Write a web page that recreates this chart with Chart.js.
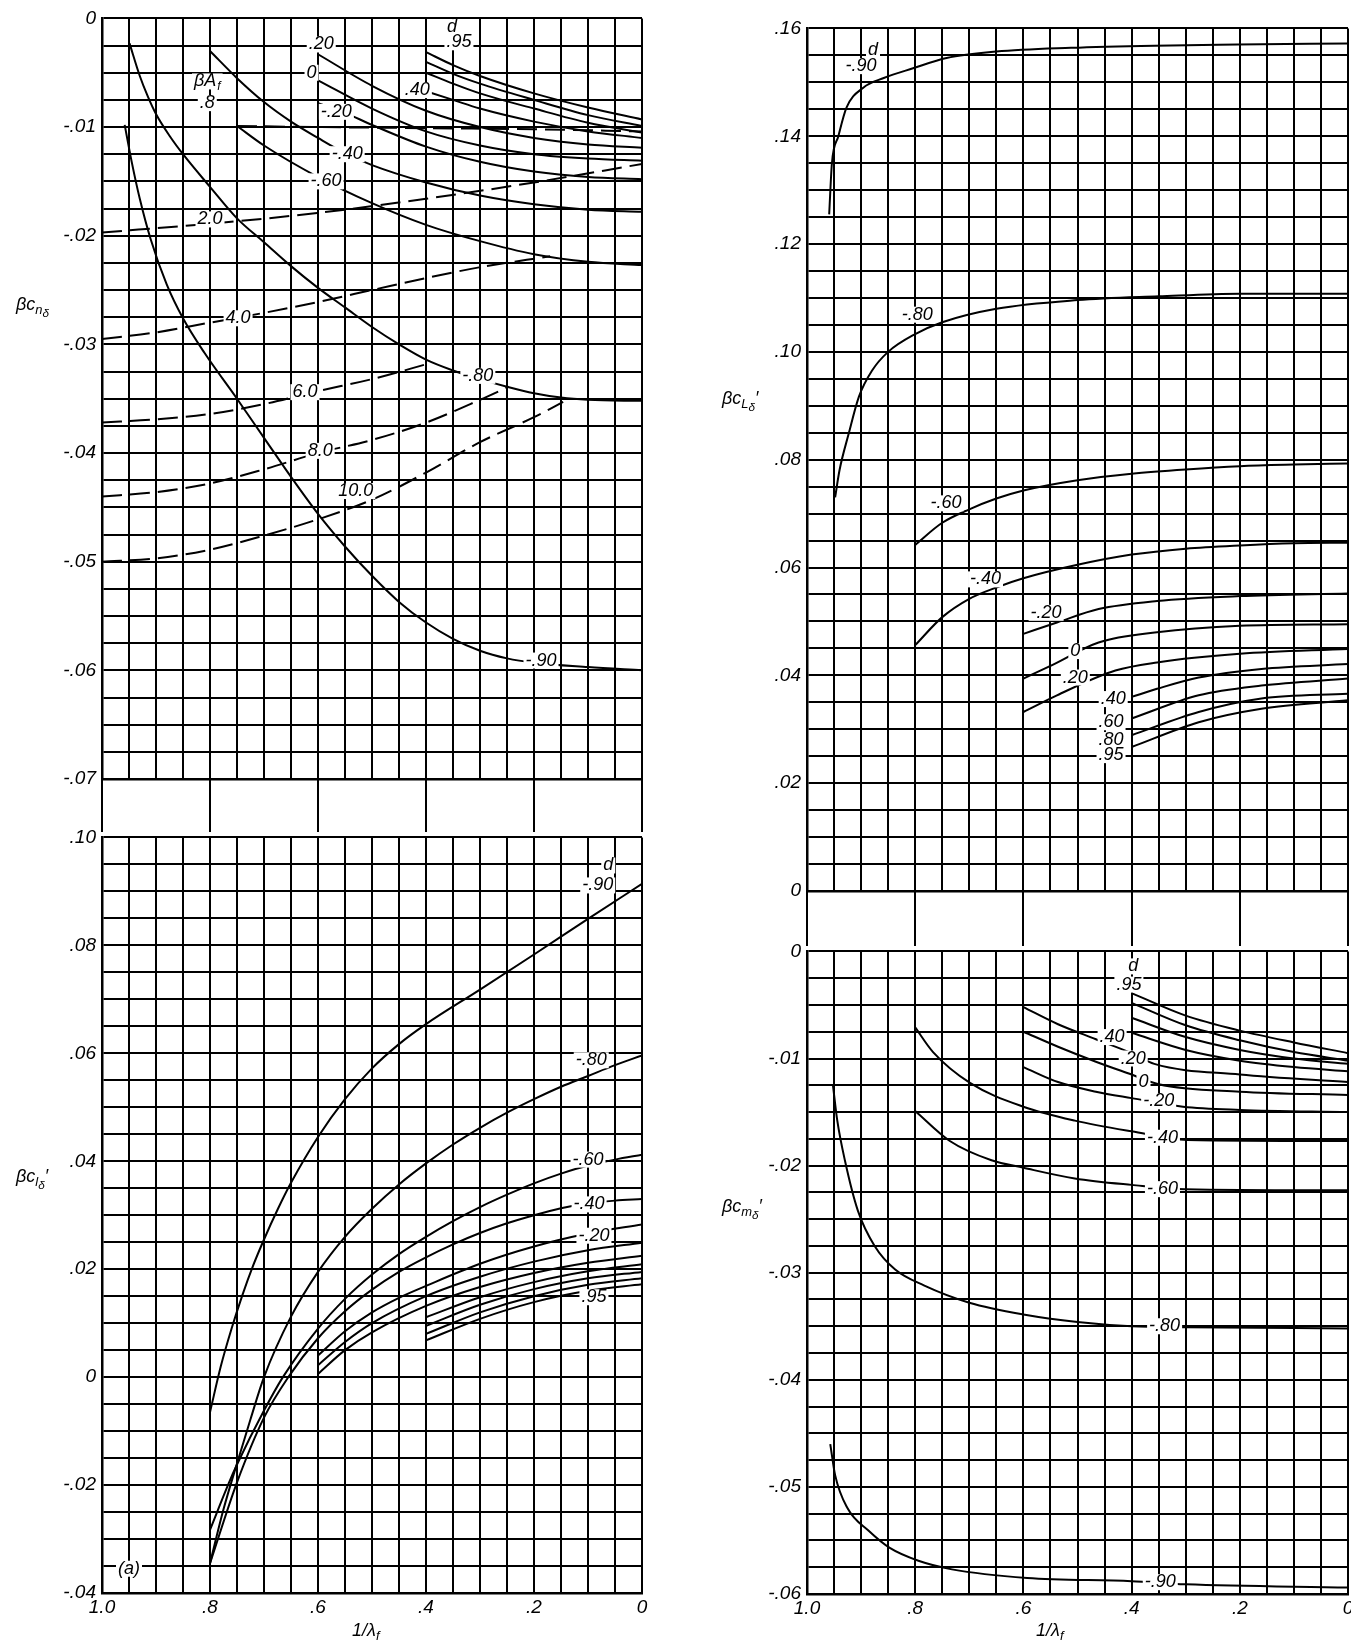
<!DOCTYPE html>
<html>
<head>
<meta charset="utf-8">
<script src="https://cdn.jsdelivr.net/npm/chart.js@4.4.1/dist/chart.umd.min.js"></script>
<style>
  html, body { margin: 0; padding: 0; background: #fff; overflow: hidden; }
  body { width: 1351px; height: 1647px; position: relative; font-family: "Liberation Sans", Arial, sans-serif; color: #000; }
  canvas { position: absolute; }
  .t { position: absolute; font-style: italic; font-size: 18px; white-space: nowrap; line-height: 1; }
  .t sub { font-size: 72%; vertical-align: -0.3em; }
  .t sub sub { font-size: 90%; vertical-align: -0.25em; }
</style>
</head>
<body>
<canvas id="cn"></canvas>
<canvas id="cl"></canvas>
<canvas id="cL"></canvas>
<canvas id="cm"></canvas>

<div class="t" style="left:16px;top:295px">βc<sub>n<sub>δ</sub></sub></div>
<div class="t" style="left:16px;top:1167px">βc<sub>l<sub>δ</sub></sub>′</div>
<div class="t" style="left:722px;top:389px">βc<sub>L<sub>δ</sub></sub>′</div>
<div class="t" style="left:722px;top:1197px">βc<sub>m<sub>δ</sub></sub>′</div>
<div class="t" style="left:352px;top:1621px">1/λ<sub>f</sub></div>
<div class="t" style="left:1036px;top:1621px">1/λ<sub>f</sub></div>

<script>
// ---------- axis settings ----------
const xLabelVals = [1, 0.8, 0.6, 0.4, 0.2, 0];
const xLabelText = ['1.0', '.8', '.6', '.4', '.2', '0'];
const xGridStep = 0.05;
const gapLineVals = [1, 0.8, 0.6, 0.4, 0.2, 0];

// ---------- βc_nδ  (yawing moment) ----------
const nD095 = [[0.4,-0.0031],[0.35,-0.0043],[0.3,-0.0053],[0.2,-0.0069],[0.1,-0.0082],[0,-0.0093]];
const nD080 = [[0.4,-0.0040],[0.35,-0.0051],[0.3,-0.0060],[0.2,-0.0075],[0.1,-0.0089],[0,-0.0099]];
const nD060 = [[0.4,-0.0050],[0.35,-0.0060],[0.3,-0.0069],[0.2,-0.0083],[0.1,-0.0096],[0,-0.0105]];
const nD040 = [[0.4,-0.0067],[0.35,-0.0075],[0.3,-0.0083],[0.2,-0.0095],[0.1,-0.0104],[0,-0.0110]];
const nD020 = [[0.6,-0.0033],[0.5,-0.0062],[0.4,-0.0085],[0.3,-0.0100],[0.2,-0.0110],[0.1,-0.0116],[0,-0.0119]];
const nD000 = [[0.6,-0.0057],[0.5,-0.0083],[0.4,-0.0104],[0.3,-0.0117],[0.2,-0.0125],[0.1,-0.0129],[0,-0.0131]];
const nDm20 = [[0.6,-0.0078],[0.55,-0.0087],[0.5,-0.0098],[0.4,-0.0118],[0.3,-0.0132],[0.2,-0.0141],[0.1,-0.0146],[0,-0.0148]];
const nDm40 = [[0.8,-0.0030],[0.75,-0.0055],[0.7,-0.0077],[0.65,-0.0095],[0.6,-0.0110],[0.55,-0.0124],[0.5,-0.0135],[0.4,-0.0151],[0.3,-0.0163],[0.2,-0.0171],[0.1,-0.0176],[0,-0.0178]];
const nDm60 = [[0.75,-0.0099],[0.7,-0.0117],[0.6,-0.0146],[0.5,-0.0170],[0.4,-0.0190],[0.3,-0.0205],[0.2,-0.0217],[0.1,-0.0224],[0,-0.0227]];
const nDm80 = [[0.949,-0.0023],[0.93,-0.0053],[0.915,-0.0072],[0.9,-0.0088],[0.875,-0.0108],[0.85,-0.0125],[0.8,-0.0155],[0.75,-0.0184],[0.7,-0.0206],[0.65,-0.0228],[0.6,-0.0248],[0.55,-0.0266],[0.5,-0.0284],[0.45,-0.0300],[0.4,-0.0314],[0.35,-0.0324],[0.3,-0.0332],[0.25,-0.0339],[0.2,-0.0345],[0.15,-0.0349],[0.1,-0.0351],[0,-0.0352]];
const nDm90 = [[0.958,-0.0098],[0.945,-0.0132],[0.93,-0.0166],[0.91,-0.0203],[0.88,-0.0245],[0.85,-0.0276],[0.81,-0.0308],[0.75,-0.0350],[0.7,-0.0386],[0.65,-0.0422],[0.6,-0.0456],[0.55,-0.0486],[0.5,-0.0513],[0.45,-0.0537],[0.4,-0.0556],[0.35,-0.0571],[0.3,-0.0582],[0.25,-0.0589],[0.2,-0.0593],[0.1,-0.0597],[0,-0.0600]];
// lines of constant βA_f
const nA08  = [[0.75,-0.0099],[0.6,-0.0100],[0.4,-0.0101],[0.2,-0.0102],[0,-0.0104]];
const nA20  = [[1,-0.0197],[0.8,-0.0189],[0.6,-0.0179],[0.4,-0.0166],[0.2,-0.0151],[0,-0.0134]];
const nA40  = [[1,-0.0295],[0.9,-0.0289],[0.8,-0.0280],[0.7,-0.0271],[0.6,-0.0261],[0.5,-0.0250],[0.4,-0.0239],[0.3,-0.0229],[0.17,-0.0219]];
const nA60  = [[1,-0.0372],[0.9,-0.0369],[0.8,-0.0364],[0.7,-0.0355],[0.6,-0.0343],[0.5,-0.0332],[0.39,-0.0317]];
const nA80  = [[1,-0.0440],[0.9,-0.0436],[0.8,-0.0428],[0.7,-0.0415],[0.6,-0.0400],[0.5,-0.0388],[0.4,-0.0372],[0.3,-0.0351],[0.247,-0.0339]];
const nA100 = [[1,-0.0500],[0.9,-0.0497],[0.8,-0.0489],[0.7,-0.0476],[0.6,-0.0461],[0.5,-0.0443],[0.4,-0.0418],[0.3,-0.0390],[0.2,-0.0367],[0.146,-0.0353]];
const nLabels = [
  {x:0.352, y:-0.0008, t:'d'}, {x:0.339, y:-0.0022, t:'.95'}, {x:0.416, y:-0.0066, t:'.40'},
  {x:0.594, y:-0.0024, t:'.20'}, {x:0.612, y:-0.0050, t:'0'}, {x:0.566, y:-0.0086, t:'-.20'},
  {x:0.546, y:-0.0125, t:'-.40'}, {x:0.585, y:-0.0150, t:'-.60'}, {x:0.304, y:-0.0329, t:'-.80'},
  {x:0.187, y:-0.0591, t:'-.90'}, {x:0.805, y:-0.0058, t:'βA', sub:'f'}, {x:0.805, y:-0.0078, t:'.8'},
  {x:0.80, y:-0.0185, t:'2.0'}, {x:0.748, y:-0.0276, t:'4.0'}, {x:0.624, y:-0.0344, t:'6.0'},
  {x:0.596, y:-0.0398, t:'8.0'}, {x:0.53, y:-0.0435, t:'10.0'}
];

// ---------- βc_lδ'  (rolling moment) ----------
const lDm90 = [[0.8,-0.0065],[0.78,0.0020],[0.76,0.0090],[0.74,0.0152],[0.72,0.0207],[0.7,0.0255],[0.675,0.0310],[0.65,0.0360],[0.6,0.0445],[0.55,0.0515],[0.5,0.0572],[0.45,0.0617],[0.4,0.0654],[0.3,0.0718],[0.2,0.0783],[0.1,0.0849],[0,0.0914]];
const lDm80 = [[0.8,-0.0345],[0.775,-0.0245],[0.75,-0.0160],[0.725,-0.0078],[0.7,0.0000],[0.65,0.0112],[0.6,0.0195],[0.55,0.0260],[0.5,0.0312],[0.45,0.0357],[0.4,0.0396],[0.35,0.0431],[0.3,0.0462],[0.25,0.0490],[0.2,0.0515],[0.15,0.0538],[0.1,0.0558],[0.05,0.0578],[0,0.0596]];
const lDm60 = [[0.8,-0.0283],[0.765,-0.0196],[0.75,-0.0162],[0.7,-0.0062],[0.665,0.0000],[0.6,0.0090],[0.55,0.0145],[0.5,0.0190],[0.45,0.0228],[0.4,0.0260],[0.35,0.0289],[0.3,0.0315],[0.25,0.0338],[0.2,0.0359],[0.15,0.0377],[0.1,0.0392],[0.05,0.0403],[0,0.0412]];
const lDm40 = [[0.8,-0.0345],[0.75,-0.0195],[0.7,-0.0075],[0.655,0.0000],[0.6,0.0072],[0.55,0.0122],[0.5,0.0162],[0.45,0.0195],[0.4,0.0222],[0.35,0.0246],[0.3,0.0267],[0.25,0.0285],[0.2,0.0300],[0.15,0.0313],[0.1,0.0322],[0.05,0.0327],[0,0.0330]];
const lDm20 = [[0.6,0.0040],[0.55,0.0085],[0.5,0.0120],[0.45,0.0147],[0.4,0.0169],[0.3,0.0210],[0.2,0.0242],[0.1,0.0266],[0,0.0283]];
const lD000 = [[0.6,0.0022],[0.55,0.0065],[0.5,0.0100],[0.4,0.0150],[0.3,0.0186],[0.2,0.0214],[0.1,0.0235],[0,0.0249]];
const lD020 = [[0.6,0.0006],[0.55,0.0050],[0.5,0.0083],[0.4,0.0132],[0.3,0.0167],[0.2,0.0193],[0.1,0.0212],[0,0.0225]];
const lD040 = [[0.4,0.0111],[0.3,0.0148],[0.2,0.0176],[0.1,0.0196],[0,0.0209]];
const lD060 = [[0.4,0.0095],[0.3,0.0134],[0.2,0.0163],[0.1,0.0183],[0,0.0195]];
const lD080 = [[0.4,0.0080],[0.3,0.0120],[0.2,0.0150],[0.1,0.0171],[0,0.0183]];
const lD095 = [[0.4,0.0068],[0.3,0.0108],[0.2,0.0139],[0.1,0.0160],[0,0.0172]];
const lLabels = [
  {x:0.0625, y:0.0948, t:'d'}, {x:0.082, y:0.0911, t:'-.90'}, {x:0.094, y:0.0587, t:'-.80'},
  {x:0.10, y:0.0403, t:'-.60'}, {x:0.098, y:0.0320, t:'-.40'}, {x:0.089, y:0.0262, t:'-.20'},
  {x:0.089, y:0.0148, t:'.95'}, {x:0.95, y:-0.0355, t:'(a)'}
];

// ---------- βc_Lδ'  (lift) ----------
const LDm90 = [[0.959,0.1255],[0.954,0.1349],[0.942,0.1400],[0.927,0.1453],[0.896,0.1490],[0.858,0.1508],[0.804,0.1526],[0.742,0.1545],[0.65,0.1557],[0.512,0.1564],[0.358,0.1568],[0.204,0.1570],[0,0.1572]];
const LDm80 = [[0.948,0.0730],[0.94,0.0780],[0.923,0.0848],[0.904,0.0917],[0.88,0.0965],[0.85,0.1000],[0.8,0.1033],[0.75,0.1055],[0.65,0.1080],[0.5,0.1096],[0.35,0.1103],[0.2,0.1108],[0,0.1108]];
const LDm60 = [[0.8,0.0642],[0.75,0.0683],[0.7,0.0708],[0.65,0.0728],[0.6,0.0743],[0.5,0.0762],[0.4,0.0774],[0.3,0.0782],[0.2,0.0788],[0.1,0.0791],[0,0.0793]];
const LDm40 = [[0.8,0.0456],[0.75,0.0508],[0.7,0.0542],[0.65,0.0563],[0.6,0.0580],[0.5,0.0605],[0.4,0.0624],[0.3,0.0635],[0.2,0.0641],[0.1,0.0645],[0,0.0646]];
const LDm20 = [[0.6,0.0477],[0.538,0.0498],[0.461,0.0523],[0.353,0.0538],[0.2,0.0547],[0,0.0552]];
const LD000 = [[0.6,0.0394],[0.545,0.0420],[0.461,0.0461],[0.353,0.0480],[0.2,0.0492],[0,0.0495]];
const LD020 = [[0.6,0.0332],[0.538,0.0363],[0.43,0.0409],[0.353,0.0424],[0.2,0.0440],[0,0.0449]];
const LD040 = [[0.4,0.0360],[0.353,0.0375],[0.276,0.0396],[0.16,0.0412],[0,0.0421]];
const LD060 = [[0.4,0.0320],[0.276,0.0363],[0.16,0.0381],[0,0.0394]];
const LD080 = [[0.4,0.0289],[0.276,0.0332],[0.16,0.0357],[0,0.0366]];
const LD095 = [[0.4,0.0267],[0.276,0.0313],[0.16,0.0338],[0,0.0354]];
const LLabels = [
  {x:0.878, y:0.1560, t:'d'}, {x:0.900, y:0.1530, t:'-.90'}, {x:0.796, y:0.1069, t:'-.80'},
  {x:0.743, y:0.0719, t:'-.60'}, {x:0.67, y:0.0578, t:'-.40'}, {x:0.558, y:0.0516, t:'-.20'},
  {x:0.504, y:0.0445, t:'0'}, {x:0.504, y:0.0396, t:'.20'}, {x:0.434, y:0.0356, t:'.40'},
  {x:0.438, y:0.0313, t:'.60'}, {x:0.438, y:0.0280, t:'.80'}, {x:0.438, y:0.0252, t:'.95'}
];

// ---------- βc_mδ'  (pitching moment) ----------
const mD095 = [[0.4,-0.0039],[0.3,-0.0060],[0.2,-0.0074],[0.1,-0.0085],[0,-0.0095]];
const mD080 = [[0.4,-0.0048],[0.3,-0.0069],[0.2,-0.0083],[0.1,-0.0094],[0,-0.0102]];
const mD060 = [[0.4,-0.0062],[0.3,-0.0080],[0.2,-0.0092],[0.1,-0.0100],[0,-0.0105]];
const mD040 = [[0.4,-0.0076],[0.3,-0.0092],[0.2,-0.0102],[0.1,-0.0108],[0,-0.0112]];
const mD020 = [[0.6,-0.0052],[0.536,-0.0068],[0.466,-0.0082],[0.4,-0.0095],[0.358,-0.0105],[0.2,-0.0115],[0,-0.0122]];
const mD000 = [[0.6,-0.0075],[0.536,-0.0089],[0.466,-0.0103],[0.4,-0.0115],[0.35,-0.0124],[0.2,-0.0131],[0,-0.0134]];
const mDm20 = [[0.6,-0.0108],[0.536,-0.0122],[0.466,-0.0131],[0.4,-0.0137],[0.305,-0.0145],[0.2,-0.0148],[0,-0.0150]];
const mDm40 = [[0.8,-0.0071],[0.767,-0.0094],[0.698,-0.0123],[0.6,-0.0145],[0.505,-0.0158],[0.4,-0.0168],[0.297,-0.0176],[0,-0.0177]];
const mDm60 = [[0.8,-0.0149],[0.736,-0.0177],[0.659,-0.0195],[0.6,-0.0202],[0.505,-0.0212],[0.4,-0.0218],[0.3,-0.0222],[0,-0.0223]];
const mDm80 = [[0.952,-0.0125],[0.944,-0.0158],[0.93,-0.0195],[0.906,-0.0242],[0.875,-0.0275],[0.837,-0.0297],[0.783,-0.0312],[0.7,-0.0328],[0.6,-0.0339],[0.5,-0.0346],[0.4,-0.0350],[0.3,-0.0351],[0,-0.0352]];
const mDm90 = [[0.957,-0.0460],[0.948,-0.0489],[0.925,-0.0520],[0.886,-0.0541],[0.847,-0.0557],[0.794,-0.0569],[0.732,-0.0577],[0.593,-0.0585],[0.4,-0.0588],[0.3,-0.0591],[0,-0.0594]];
const mLabels = [
  {x:0.397, y:-0.0014, t:'d'}, {x:0.405, y:-0.0031, t:'.95'}, {x:0.436, y:-0.0080, t:'.40'},
  {x:0.397, y:-0.0100, t:'.20'}, {x:0.378, y:-0.0122, t:'0'}, {x:0.35, y:-0.0140, t:'-.20'},
  {x:0.343, y:-0.0174, t:'-.40'}, {x:0.343, y:-0.0222, t:'-.60'}, {x:0.339, y:-0.0350, t:'-.80'},
  {x:0.347, y:-0.0589, t:'-.90'}
];

// ---------- drawing ----------
const INK = '#000';
const TICK_FONT = {family: '"Liberation Sans", Arial, sans-serif', size: 19, style: 'italic'};
const LABEL_FONT = 'italic 18px "Liberation Sans", Arial, sans-serif';
const SUB_FONT = 'italic 12px "Liberation Sans", Arial, sans-serif';

function near(v, step) { return Math.abs(v / step - Math.round(v / step)) < 1e-6; }
function gridTicks(min, max, step) {
  const n = Math.round((max - min) / step), out = [];
  for (let i = 0; i <= n; i++) out.push({value: +(min + i * step).toFixed(6)});
  return out;
}
function fmtY(v) {
  if (Math.abs(v) < 1e-9) return '0';
  return (v < 0 ? '-' : '') + Math.abs(v).toFixed(2).replace(/^0/, '');
}
function fmtX(v) {
  const i = xLabelVals.findIndex(a => Math.abs(a - v) < 1e-6);
  return i >= 0 ? xLabelText[i] : '';
}

function labelPlugin(labels) {
  return {
    id: 'curveLabels',
    afterDatasetsDraw(chart) {
      const ctx = chart.ctx, xs = chart.scales.x, ys = chart.scales.y;
      ctx.save();
      ctx.textBaseline = 'middle';
      labels.forEach(l => {
        const px = xs.getPixelForValue(l.x), py = ys.getPixelForValue(l.y);
        ctx.font = LABEL_FONT;
        const w = ctx.measureText(l.t).width;
        let ws = 0;
        if (l.sub) { ctx.font = SUB_FONT; ws = ctx.measureText(l.sub).width + 1; }
        const tw = w + ws;
        ctx.fillStyle = '#fff';
        ctx.fillRect(px - tw / 2 - 2, py - 8, tw + 4, 16);
        ctx.fillStyle = INK;
        ctx.font = LABEL_FONT;
        ctx.textAlign = 'left';
        ctx.fillText(l.t, px - tw / 2, py);
        if (l.sub) { ctx.font = SUB_FONT; ctx.fillText(l.sub, px - tw / 2 + w + 1, py + 5); }
      });
      ctx.restore();
    }
  };
}

function gapPlugin(gap) {
  return {
    id: 'gapLines',
    afterDraw(chart) {
      if (!gap) return;
      const ctx = chart.ctx, xs = chart.scales.x, a = chart.chartArea;
      ctx.save();
      ctx.strokeStyle = INK; ctx.lineWidth = 2;
      gapLineVals.forEach(v => {
        const px = Math.round(xs.getPixelForValue(v));
        ctx.beginPath(); ctx.moveTo(px, a.bottom); ctx.lineTo(px, a.bottom + gap); ctx.stroke();
      });
      ctx.restore();
    }
  };
}

function buildPanel(cfg) {
  const cv = document.getElementById(cfg.id);
  const LM = 100, TM = 12, RM = 8, BM = cfg.bottom;
  const W = LM + cfg.area.w + RM, H = TM + cfg.area.h + BM;
  cv.width = W; cv.height = H;
  cv.style.width = W + 'px'; cv.style.height = H + 'px';
  cv.style.left = (cfg.area.x - LM) + 'px'; cv.style.top = (cfg.area.y - TM) + 'px';

  const datasets = cfg.series.map(s => ({
    data: s.pts.map(p => ({x: p[0], y: p[1]})),
    borderColor: INK,
    borderWidth: 2,
    borderDash: s.dash ? [20, 8] : [],
    pointRadius: 0,
    fill: false,
    cubicInterpolationMode: 'monotone'
  }));

  new Chart(cv, {
    type: 'line',
    data: {datasets},
    options: {
      responsive: false,
      animation: false,
      events: [],
      layout: {padding: {left: 0, top: TM, right: RM, bottom: 0}},
      plugins: {legend: {display: false}, tooltip: {enabled: false}},
      scales: {
        x: {
          type: 'linear', reverse: true, min: 0, max: 1,
          afterFit: s => { s.height = BM; },
          afterBuildTicks: s => { s.ticks = gridTicks(0, 1, xGridStep); },
          ticks: {display: cfg.xLabels, autoSkip: false, maxRotation: 0, padding: 3,
                  font: TICK_FONT, color: INK, callback: v => fmtX(v)},
          grid: {color: INK, lineWidth: 2, drawTicks: false},
          border: {color: INK, width: 2.5}
        },
        y: {
          type: 'linear', min: cfg.yMin, max: cfg.yMax,
          afterFit: s => { s.width = LM; },
          afterBuildTicks: s => { s.ticks = gridTicks(cfg.yMin, cfg.yMax, cfg.yGrid); },
          ticks: {autoSkip: false, padding: 6, font: TICK_FONT, color: INK,
                  callback: v => near(v, cfg.yLabelStep) ? fmtY(v) : ''},
          grid: {color: INK, lineWidth: 2, drawTicks: false},
          border: {color: INK, width: 2.5}
        }
      }
    },
    plugins: [labelPlugin(cfg.labels), gapPlugin(cfg.gap)]
  });
}

buildPanel({
  id: 'cn', area: {x: 102, y: 13, w: 540, h: 766}, bottom: 56, gap: 53,
  yMin: -0.07, yMax: 0, yGrid: 0.0025, yLabelStep: 0.01, xLabels: false,
  series: [
    {pts: nD095}, {pts: nD080}, {pts: nD060}, {pts: nD040}, {pts: nD020}, {pts: nD000},
    {pts: nDm20}, {pts: nDm40}, {pts: nDm60}, {pts: nDm80}, {pts: nDm90},
    {pts: nA08, dash: true}, {pts: nA20, dash: true}, {pts: nA40, dash: true},
    {pts: nA60, dash: true}, {pts: nA80, dash: true}, {pts: nA100, dash: true}
  ],
  labels: nLabels
});

buildPanel({
  id: 'cl', area: {x: 102, y: 832, w: 540, h: 761}, bottom: 30, gap: 0,
  yMin: -0.04, yMax: 0.10, yGrid: 0.005, yLabelStep: 0.02, xLabels: true,
  series: [
    {pts: lDm90}, {pts: lDm80}, {pts: lDm60}, {pts: lDm40}, {pts: lDm20}, {pts: lD000},
    {pts: lD020}, {pts: lD040}, {pts: lD060}, {pts: lD080}, {pts: lD095}
  ],
  labels: lLabels
});

buildPanel({
  id: 'cL', area: {x: 807, y: 23, w: 541, h: 868}, bottom: 58, gap: 55,
  yMin: 0, yMax: 0.16, yGrid: 0.005, yLabelStep: 0.02, xLabels: false,
  series: [
    {pts: LDm90}, {pts: LDm80}, {pts: LDm60}, {pts: LDm40}, {pts: LDm20}, {pts: LD000},
    {pts: LD020}, {pts: LD040}, {pts: LD060}, {pts: LD080}, {pts: LD095}
  ],
  labels: LLabels
});

buildPanel({
  id: 'cm', area: {x: 807, y: 946, w: 541, h: 648}, bottom: 30, gap: 0,
  yMin: -0.06, yMax: 0, yGrid: 0.0025, yLabelStep: 0.01, xLabels: true,
  series: [
    {pts: mD095}, {pts: mD080}, {pts: mD060}, {pts: mD040}, {pts: mD020}, {pts: mD000},
    {pts: mDm20}, {pts: mDm40}, {pts: mDm60}, {pts: mDm80}, {pts: mDm90}
  ],
  labels: mLabels
});
</script>
</body>
</html>
